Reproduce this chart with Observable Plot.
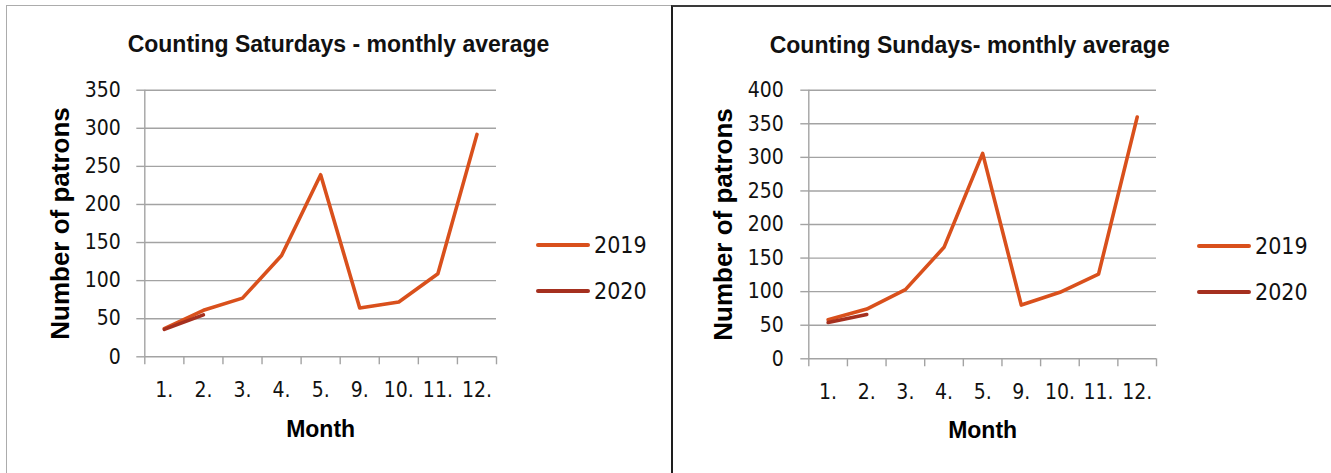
<!DOCTYPE html>
<html>
<head>
<meta charset="utf-8">
<script src="https://cdn.jsdelivr.net/npm/d3@7"></script>
<script src="https://cdn.jsdelivr.net/npm/@observablehq/plot@0.6"></script>
<style>
  body { margin: 0; background: #fff; }
  #wrap { position: relative; width: 1331px; height: 473px; overflow: hidden; background: #fff; }
  .frame { position: absolute; box-sizing: border-box; }
  .title { position: absolute; transform: translate(-50%, -50%); white-space: nowrap;
           font-family: "Liberation Sans", Arial, sans-serif; font-weight: bold; font-size: 23px; color: #111; }
  .leg-line { position: absolute; height: 4px; border-radius: 2px; transform: translateY(-50%); }
  .leg-text { position: absolute; transform: translateY(-50%); white-space: nowrap; line-height: 1;
              font-family: "Liberation Sans Narrow", "DejaVu Sans Condensed", "Liberation Sans", sans-serif; font-size: 23px; color: #111; }
  .chart { position: absolute; top: 0; }
</style>
</head>
<body>
<div id="wrap"></div>
<script>
// ---- data ----
const months = ["1.", "2.", "3.", "4.", "5.", "9.", "10.", "11.", "12."];
const years = ["2019", "2020"];
const sat2019 = [37, 61, 77, 133, 239, 64, 72, 109, 292];
const sat2020 = [36, 55];
const sun2019 = [58, 74, 103, 166, 306, 80, 99, 126, 360];
const sun2020 = [54, 66];
const satTicks = [0, 50, 100, 150, 200, 250, 300, 350];
const sunTicks = [0, 50, 100, 150, 200, 250, 300, 350, 400];
const satTitle = "Counting Saturdays - monthly average";
const sunTitle = "Counting Sundays- monthly average";
const yLabel = "Number of patrons";
const xLabel = "Month";

const colors = { "2019": "#D9501C", "2020": "#A5301F" };
const grid = "#A3A3A3";
const tickFont = "'Liberation Sans Narrow', 'DejaVu Sans Condensed', 'Liberation Sans', sans-serif";
const boldFont = "'Liberation Sans', Arial, sans-serif";

const wrap = document.getElementById("wrap");

function rows(series) {
  const out = [];
  years.forEach((yr, k) => series[k].forEach((v, i) => out.push({ year: yr, idx: i + 0.5, month: months[i], value: v })));
  return out;
}

function chart(cfg) {
  const data = rows(cfg.series);
  const boundaries = d3.range(months.length + 1);
  const p = Plot.plot({
    width: cfg.width, height: 473,
    marginLeft: cfg.ml, marginRight: cfg.mr, marginTop: cfg.mt, marginBottom: cfg.mb,
    x: { domain: [0, months.length] },
    y: { domain: [0, cfg.ticks[cfg.ticks.length - 1]] },
    style: { fontFamily: tickFont, fontSize: "21px", color: "#111", background: "transparent", overflow: "visible" },
    marks: [
      Plot.gridY({ ticks: cfg.ticks, stroke: grid, strokeOpacity: 1, strokeWidth: 1.4 }),
      Plot.ruleX([0], { stroke: grid, strokeWidth: 1.4 }),
      Plot.axisY({ ticks: cfg.ticks, label: null, tickSize: 8, tickPadding: cfg.tp, stroke: grid, strokeWidth: 1.4, strokeOpacity: 1,
                   fill: "#111", fontSize: 21, fontFamily: tickFont, tickFormat: d => String(d) }),
      Plot.axisX({ ticks: boundaries, label: null, tickSize: 8, tickFormat: () => "", stroke: grid, strokeWidth: 1.4, strokeOpacity: 1 }),
      Plot.text(months, { x: (d, i) => i + 0.5, frameAnchor: "bottom", lineAnchor: "middle", dy: cfg.xlab, text: d => d,
                          fontSize: 21, fontFamily: tickFont, fill: "#111" }),
      Plot.line(data, { x: "idx", y: "value", z: "year", stroke: d => colors[d.year], strokeWidth: 3.6,
                        strokeLinejoin: "round", strokeLinecap: "round" }),
      Plot.text([yLabel], { frameAnchor: "left", textAnchor: "middle", lineAnchor: "middle", dx: cfg.ylx, rotate: -90,
                            text: d => d, fontSize: 26, fontWeight: "bold", fontFamily: boldFont, fill: "#000" }),
      Plot.text([xLabel], { frameAnchor: "bottom", lineAnchor: "middle", dy: cfg.xly, text: d => d, fontSize: 23,
                            fontWeight: "bold", fontFamily: boldFont, fill: "#000" })
    ]
  });
  p.classList.add("chart");
  p.style.left = cfg.left + "px";
  wrap.appendChild(p);

  const t = document.createElement("div");
  t.className = "title";
  t.textContent = cfg.title;
  t.style.left = cfg.tx + "px";
  t.style.top = cfg.ty + "px";
  wrap.appendChild(t);

  years.forEach((yr, k) => {
    const l = document.createElement("div");
    l.className = "leg-line";
    l.style.left = cfg.legX + "px";
    l.style.width = "54px";
    l.style.top = cfg.legY[k] + "px";
    l.style.background = colors[yr];
    wrap.appendChild(l);
    const s = document.createElement("div");
    s.className = "leg-text";
    s.textContent = yr;
    s.style.left = (cfg.legX + 58) + "px";
    s.style.top = cfg.legY[k] + "px";
    wrap.appendChild(s);
  });
}

// panel frames
const f1 = document.createElement("div");
f1.className = "frame";
Object.assign(f1.style, { left: "6px", top: "5px", width: "667px", height: "480px",
  borderLeft: "1.5px solid #ACACAC", borderTop: "1.5px solid #ACACAC" });
wrap.appendChild(f1);
const f2 = document.createElement("div");
f2.className = "frame";
Object.assign(f2.style, { left: "670.5px", top: "5px", width: "662px", height: "480px",
  borderLeft: "2px solid #1E1E1E", borderTop: "2px solid #3A3A3A", borderRight: "1px solid #E2E2E2" });
wrap.appendChild(f2);

chart({ series: [sat2019, sat2020], ticks: satTicks, title: satTitle, left: 0, width: 671,
        ml: 144.3, mr: 175, mt: 89.7, mb: 116.7, tp: 16, xlab: 33.7, ylx: -84.3, xly: 72.7,
        tx: 338.5, ty: 44, legX: 536, legY: [245, 291] });
chart({ series: [sun2019, sun2020], ticks: sunTicks, title: sunTitle, left: 671, width: 660,
        ml: 137.3, mr: 175, mt: 89.7, mb: 114.7, tp: 17, xlab: 33.4, ylx: -85.6, xly: 71.7,
        tx: 969.7, ty: 45, legX: 1197, legY: [246, 292] });
</script>
</body>
</html>
